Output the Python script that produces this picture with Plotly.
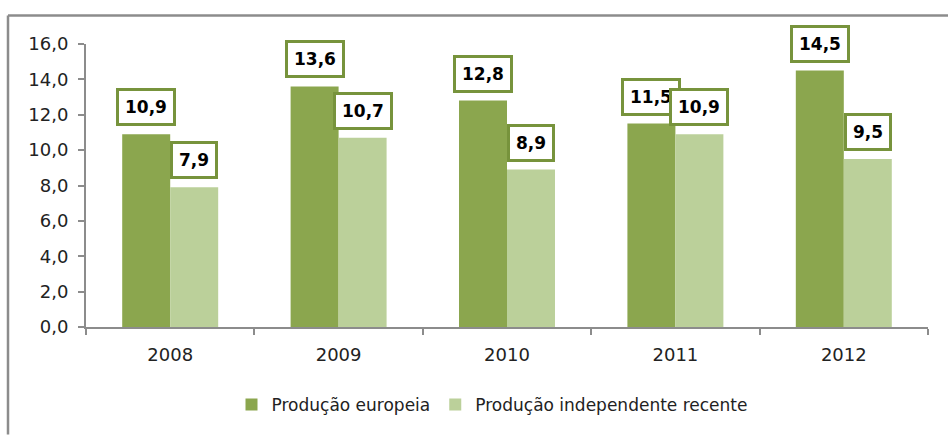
import plotly.graph_objects as go

years = ["2008", "2009", "2010", "2011", "2012"]
europeia = [10.9, 13.6, 12.8, 11.5, 14.5]
independente = [7.9, 10.7, 8.9, 10.9, 9.5]
series_names = ["Produção europeia", "Produção independente recente"]
colors = ["#8BA64E", "#BBD09A"]

W, H = 948, 435
L, R, T, B = 86, 20, 44, 104
pw, ph = W - L - R, H - T - B

fig = go.Figure()
for name, vals, c in zip(series_names, [europeia, independente], colors):
    fig.add_trace(go.Bar(x=years, y=vals, name=name, marker=dict(color=c, line=dict(width=0))))

def fmt(v):
    return f"{v:.1f}".replace(".", ",")

ann = []
for vals, shift in [(europeia, -24), (independente, 24)]:
    for i, v in enumerate(vals):
        ann.append(dict(x=i, y=v, xref="x", yref="y", text=f"<b>{fmt(v)}</b>", showarrow=False,
                        xshift=shift, yshift=8, yanchor="bottom", xanchor="center",
                        bgcolor="white", bordercolor="#77933C", borderwidth=3, borderpad=6,
                        font=dict(family="DejaVu Sans", size=17, color="black")))

def px_x(p):
    return (p - L) / pw

def px_y(p):
    return (H - B - p) / ph

shapes = [
    dict(type="line", xref="paper", yref="paper", x0=px_x(8), x1=px_x(W + 5), y0=px_y(15), y1=px_y(15),
         line=dict(color="#8C8C8C", width=2.5)),
    dict(type="line", xref="paper", yref="paper", x0=px_x(8), x1=px_x(8), y0=px_y(15), y1=px_y(H + 5),
         line=dict(color="#8C8C8C", width=2.5)),
]

fig.update_layout(
    width=W, height=H, margin=dict(l=L, r=R, t=T, b=B),
    paper_bgcolor="white", plot_bgcolor="white",
    barmode="group", bargap=0.43, bargroupgap=0,
    separators=",.",
    font=dict(family="DejaVu Sans", size=18, color="#222222"),
    showlegend=True,
    legend=dict(orientation="h", x=px_x(492), xanchor="center", y=px_y(410), yanchor="middle",
                font=dict(size=17, color="#222222"), itemwidth=30, traceorder="normal"),
    annotations=ann, shapes=shapes,
)
fig.update_xaxes(type="category", range=[-0.5, 4.5], autorange=False, tickangle=0,
                 tickfont=dict(size=18, color="#222222"), ticklabelstandoff=10,
                 showline=True, linecolor="#8C8C8C", linewidth=2,
                 ticks="outside", tickson="boundaries", ticklen=6, tickcolor="#8C8C8C", tickwidth=1.5,
                 showgrid=False)
fig.update_yaxes(range=[0, 16], dtick=2, tickformat=".1f", tickfont=dict(size=18, color="#222222"),
                 ticklabelstandoff=6,
                 showline=True, linecolor="#8C8C8C", linewidth=2,
                 ticks="outside", ticklen=6, tickcolor="#8C8C8C", tickwidth=1.5, showgrid=False,
                 zeroline=False)

fig.write_html("out.html")
